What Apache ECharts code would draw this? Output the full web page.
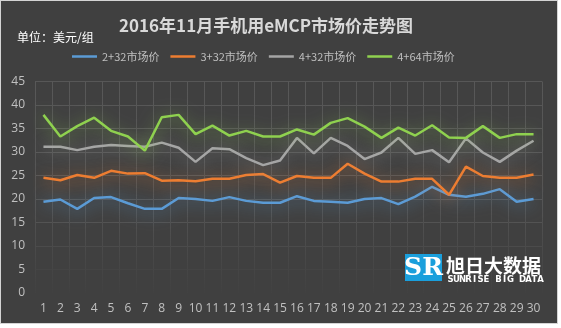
<!DOCTYPE html>
<html><head><meta charset="utf-8">
<script src="https://cdn.jsdelivr.net/npm/echarts@6/dist/echarts.min.js"></script>
<style>html,body{margin:0;padding:0;background:#fff;}#c{width:561px;height:328px;}</style>
</head><body><div id="c"></div>
<script>
var categories = ['1','2','3','4','5','6','7','8','9','10','11','12','13','14','15','16','17','18','19','20','21','22','23','24','25','26','27','28','29','30'];
var s2_32 = [19.4,19.9,17.9,20.2,20.4,19.1,17.9,17.9,20.2,20.0,19.6,20.4,19.6,19.2,19.2,20.6,19.6,19.4,19.2,20.0,20.2,18.9,20.5,22.6,20.9,20.5,21.1,22.1,19.4,20.0];
var s3_32 = [24.5,24.0,25.1,24.5,26.0,25.4,25.5,23.9,24.0,23.8,24.3,24.3,25.1,25.3,23.5,24.9,24.5,24.5,27.5,25.4,23.7,23.7,24.3,24.3,20.9,26.9,24.9,24.5,24.5,25.2];
var s4_32 = [31.1,31.1,30.4,31.1,31.5,31.3,31.1,32.0,30.9,27.9,30.8,30.6,28.7,27.2,28.2,33.0,29.7,33.0,31.3,28.5,29.9,33.0,29.6,30.4,27.8,32.9,29.9,27.9,30.3,32.4];
var s4_64 = [37.9,33.3,35.5,37.3,34.5,33.3,30.3,37.4,37.9,33.8,35.6,33.5,34.5,33.3,33.3,34.8,33.7,36.2,37.2,35.4,33.0,35.2,33.5,35.7,33.1,33.0,35.5,33.0,33.8,33.8];
var seriesNames = ['2+32市场价','3+32市场价','4+32市场价','4+64市场价'];
var seriesColors = ['#5B9BD5','#ED7D31','#A5A5A5','#8FD14F'];
var glowColors = ['rgba(91,155,213,0.8)','rgba(237,125,49,0.8)','rgba(165,165,165,0.7)','rgba(143,209,79,0.7)'];
var yTicks = {min:0, max:45, interval:5};
var titleText = '2016年11月手机用eMCP市场价走势图';
var unitText = '单位：美元/组';
var logoText = '旭日大数据';
var logoSub = 'SUNRISE BIG DATA';

var FONT = '"Noto Sans CJK SC", "Noto Sans", sans-serif';
var chart = echarts.init(document.getElementById('c'), null, {renderer:'canvas'});
var allData = [s2_32, s3_32, s4_32, s4_64];
var series = allData.map(function(d,i){
  return {
    name: seriesNames[i], type:'line', data:d, symbol:'none', smooth:false,
    lineStyle:{width:2.5, color:seriesColors[i], shadowColor:glowColors[i], shadowBlur:16, shadowOffsetY:2},
    itemStyle:{color:seriesColors[i]}, z:3+i
  };
});
var vGrad = {type:'linear', x:0, y:82, x2:0, y2:293, global:true,
  colorStops:[{offset:0,color:'#585858'},{offset:0.6,color:'#535353'},{offset:0.85,color:'#474747'},{offset:1,color:'#414141'}]};
var graphics = [
  {type:'rect', z:-100, shape:{x:0,y:0,width:558,height:324}, style:{fill:'#d4d4d4'}},
  {type:'rect', z:-99, shape:{x:1,y:1,width:556,height:322}, style:{fill:'#404040'}},
  {type:'text', left:17, top:31, style:{text:unitText, fill:'#ffffff', font:'12px '+FONT}},
  {type:'rect', z:5, shape:{x:405,y:254,width:37,height:27}, style:{fill:'#1a9fdc'}},
  {type:'text', z:6, x:423.5, y:268, style:{text:'SR', fill:'#ffffff', font:'bold 25px "DejaVu Serif", serif', textAlign:'center', textVerticalAlign:'middle'}},
  {type:'text', z:6, x:446, y:265.5, style:{text:logoText, fill:'#ffffff', font:'bold 19px '+FONT, textVerticalAlign:'middle'}}
];
for (var k=0;k<logoSub.length;k++){
  graphics.push({type:'text', z:6, x:448+k*6.0+2.5, y:280, style:{text:logoSub[k], fill:'#ffffff', font:'bold 8.5px "DejaVu Sans", sans-serif', textAlign:'center', textVerticalAlign:'middle'}});
}
chart.setOption({
  backgroundColor:'#ffffff',
  animation:false,
  textStyle:{fontFamily:FONT},
  graphic:graphics,
  title:{text:titleText, left:261, textAlign:'center', top:12,
    textStyle:{color:'#d9d9d9', fontSize:17, fontWeight:'bold', fontFamily:FONT}},
  legend:{data:seriesNames, left:67, top:46, icon:'rect', itemWidth:25, itemHeight:2.5, itemGap:11,
    textStyle:{color:'#bfbfbf', fontSize:11, fontFamily:FONT}},
  grid:{left:35, right:19, top:81.5, bottom:35, containLabel:false},
  xAxis:{type:'category', data:categories, boundaryGap:true,
    axisLine:{show:false}, axisTick:{show:false},
    axisLabel:{color:'#c0c0c0', fontSize:12, margin:10, interval:0, fontFamily:'"Open Sans", sans-serif'},
    splitLine:{show:true, interval:0, lineStyle:{color:vGrad, width:1}}},
  yAxis:{type:'value', min:yTicks.min, max:yTicks.max, interval:yTicks.interval,
    axisLine:{show:false}, axisTick:{show:false},
    axisLabel:{color:'#c0c0c0', fontSize:12, margin:10, fontFamily:'"Open Sans", sans-serif'},
    splitLine:{lineStyle:{color:['#404040','#444444','#4b4b4b','#535353','#565656','#575757','#575757','#575757','#575757','#575757'], width:1}}},
  series:series
});
</script></body></html>
